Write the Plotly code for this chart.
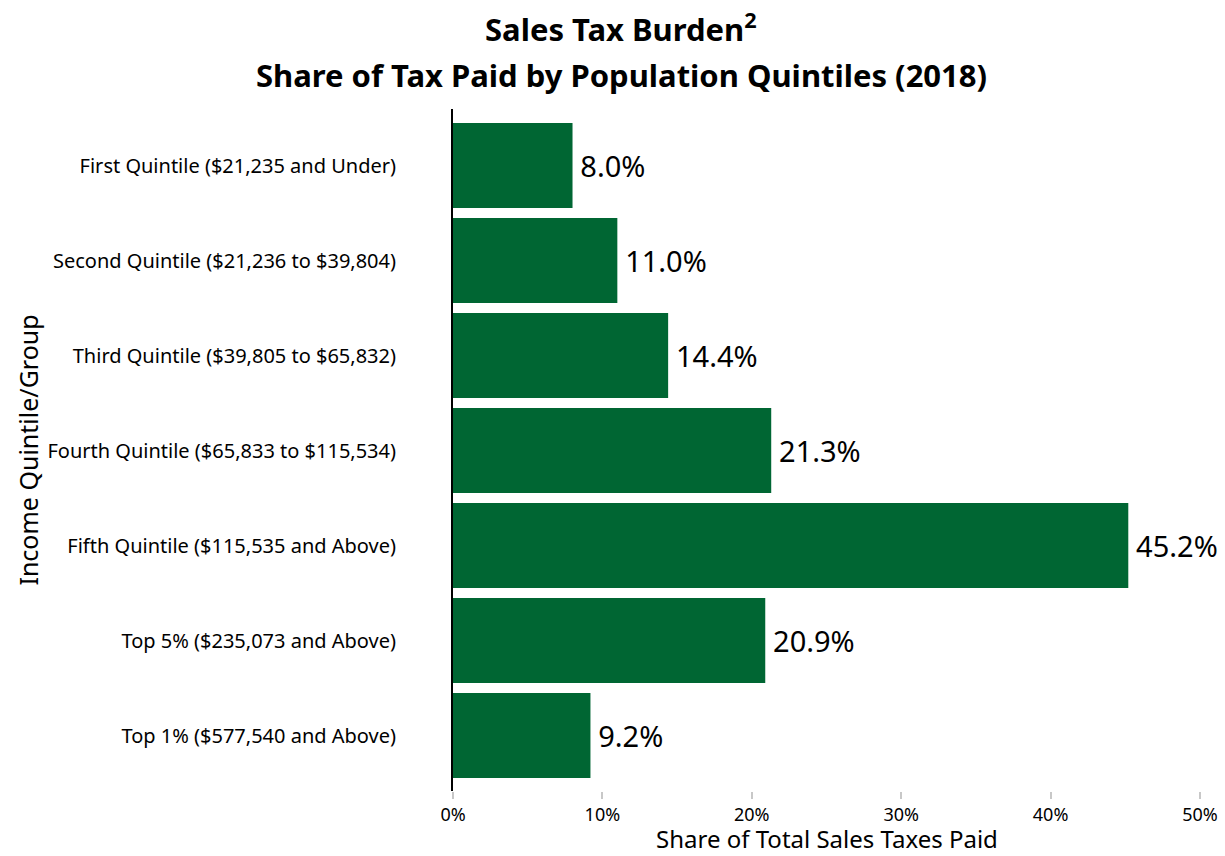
import plotly.graph_objects as go

categories = [
    "First Quintile ($21,235 and Under)",
    "Second Quintile ($21,236 to $39,804)",
    "Third Quintile ($39,805 to $65,832)",
    "Fourth Quintile ($65,833 to $115,534)",
    "Fifth Quintile ($115,535 and Above)",
    "Top 5% ($235,073 and Above)",
    "Top 1% ($577,540 and Above)",
]
shares = [8.0, 11.0, 14.4, 21.3, 45.2, 20.9, 9.2]
x_ticks = [0, 10, 20, 30, 40, 50]
x_tick_labels = ["0%", "10%", "20%", "30%", "40%", "50%"]

FONT = "Noto Sans"
GREEN = "#006633"

fig = go.Figure(go.Bar(
    x=shares,
    y=categories,
    orientation="h",
    marker=dict(color=GREEN, line=dict(width=0)),
    text=[f"\u2009{v:.1f}%" for v in shares],
    textposition="outside",
    textfont=dict(family=FONT, size=29, color="black"),
    cliponaxis=False,
    hoverinfo="skip",
))

fig.update_layout(
    width=1225, height=856,
    paper_bgcolor="white", plot_bgcolor="white",
    margin=dict(l=453, r=25, t=109, b=65),
    bargap=0.105,
    showlegend=False,
    font=dict(family=FONT, color="black"),
    annotations=[
        dict(text="<b>Sales Tax Burden<sup>2</sup></b>", xref="paper", yref="paper",
             x=0.225, y=1.12, xanchor="center", yanchor="middle", showarrow=False,
             font=dict(family=FONT, size=31, color="black")),
        dict(text="<b>Share of Tax Paid by Population Quintiles (2018)</b>", xref="paper", yref="paper",
             x=0.225, y=1.05, xanchor="center", yanchor="middle", showarrow=False,
             font=dict(family=FONT, size=31, color="black")),
        dict(text="Share of Total Sales Taxes Paid", xref="paper", yref="paper",
             x=0.5, y=-0.069, xanchor="center", yanchor="middle", showarrow=False,
             font=dict(family=FONT, size=24, color="black")),
    ],
)

fig.update_xaxes(
    range=[0, 50], automargin=False,
    tickvals=x_ticks, ticktext=x_tick_labels,
    ticks="outside", ticklen=7, tickwidth=2, tickcolor="#c8c8c8",
    showgrid=False, zeroline=False, showline=False,
    tickfont=dict(family=FONT, size=18, color="black"),
)

fig.update_yaxes(
    range=[6.584, -0.595], automargin=False,
    showgrid=False, zeroline=False,
    showline=True, linecolor="black", linewidth=2,
    ticks="", ticklabelstandoff=51,
    tickfont=dict(family=FONT, size=20, color="black"),
    title=dict(text="Income Quintile/Group", font=dict(family=FONT, size=25, color="black"), standoff=2),
)

fig.write_html("out.html", config={"displayModeBar": False},
               post_script="document.body.style.margin='0px';")
